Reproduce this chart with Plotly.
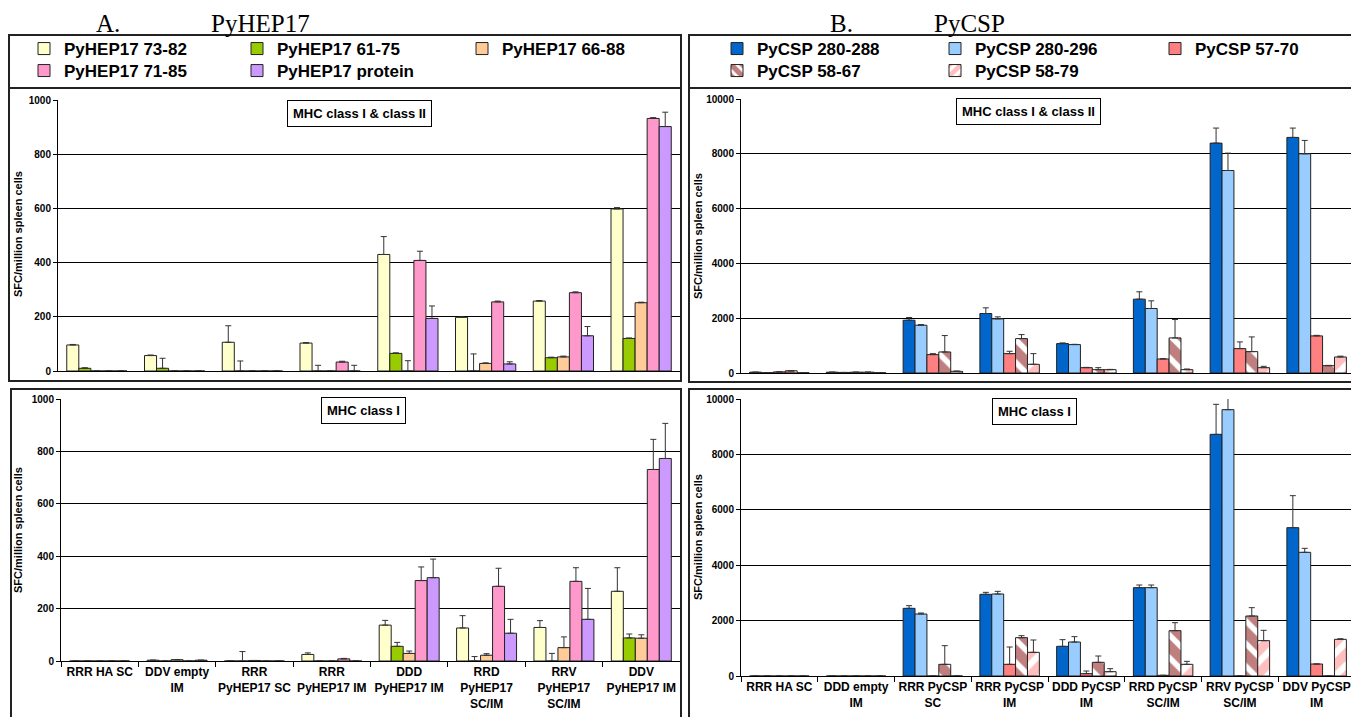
import plotly.graph_objects as go

# The page body adds an 8px offset, so the figure is drawn 8px smaller and
# reference pixel coordinates are shifted by 8px.
OFF = 8
W, H = 1359 - OFF, 717 - OFF


def px(x):
    return (x - OFF) / W


def py(y):
    return 1 - (y - OFF) / H


# ---------------- data ----------------
hep_labels = ["RRR HA SC", "DDV empty<br>IM", "RRR<br>PyHEP17 SC", "RRR<br>PyHEP17 IM",
              "DDD<br>PyHEP17 IM", "RRD<br>PyHEP17<br>SC/IM", "RRV<br>PyHEP17<br>SC/IM",
              "DDV<br>PyHEP17 IM"]
csp_labels = ["RRR HA SC", "DDD empty<br>IM", "RRR PyCSP<br>SC", "RRR PyCSP<br>IM",
              "DDD PyCSP<br>IM", "RRD PyCSP<br>SC/IM", "RRV PyCSP<br>SC/IM", "DDV PyCSP<br>IM"]

hep_names = ["PyHEP17 73-82", "PyHEP17 61-75", "PyHEP17 66-88", "PyHEP17 71-85", "PyHEP17 protein"]
csp_names = ["PyCSP 280-288", "PyCSP 280-296", "PyCSP 57-70", "PyCSP 58-67", "PyCSP 58-79"]

# PyHEP17, MHC class I & class II
hep_top_7382 = [96, 57, 106, 103, 430, 198, 258, 598]
hep_top_6175 = [10, 10, 0, 0, 65, 0, 49, 120]
hep_top_6688 = [0, 0, 0, 0, 0, 28, 52, 252]
hep_top_7185 = [0, 0, 0, 33, 408, 255, 289, 932]
hep_top_prot = [0, 0, 0, 0, 194, 26, 130, 902]
hep_top_7382_err = [2, 2, 61, 2, 66, 2, 2, 5]
hep_top_6175_err = [2, 37, 37, 21, 2, 63, 2, 2]
hep_top_6688_err = [0, 0, 0, 0, 38, 2, 3, 2]
hep_top_7185_err = [0, 0, 0, 3, 34, 3, 3, 3]
hep_top_prot_err = [0, 0, 0, 21, 46, 8, 34, 53]

# PyHEP17, MHC class I
hep_bot_7382 = [0, 3, 0, 25, 137, 126, 128, 266]
hep_bot_6175 = [0, 0, 0, 0, 56, 0, 0, 88]
hep_bot_6688 = [0, 5, 2, 0, 29, 22, 51, 87]
hep_bot_7185 = [0, 0, 0, 8, 307, 285, 304, 731]
hep_bot_prot = [0, 3, 0, 0, 318, 106, 159, 773]
hep_bot_7382_err = [0, 0, 0, 6, 18, 47, 26, 90]
hep_bot_6175_err = [0, 0, 36, 0, 15, 17, 29, 15]
hep_bot_6688_err = [0, 0, 0, 0, 9, 6, 41, 13]
hep_bot_7185_err = [0, 0, 0, 2, 52, 69, 52, 115]
hep_bot_prot_err = [0, 0, 0, 0, 71, 53, 118, 134]

# PyCSP, MHC class I & class II
csp_top_280288 = [30, 30, 1927, 2171, 1073, 2695, 8390, 8598]
csp_top_280296 = [10, 20, 1744, 1976, 1037, 2354, 7390, 8000]
csp_top_5770 = [40, 30, 671, 707, 195, 512, 890, 1354]
csp_top_5867 = [80, 30, 768, 1256, 122, 1280, 780, 268]
csp_top_5879 = [10, 10, 61, 317, 122, 122, 195, 585]
csp_top_280288_err = [0, 0, 97, 207, 25, 268, 549, 341]
csp_top_280296_err = [0, 0, 24, 73, 10, 280, 634, 488]
csp_top_5770_err = [0, 0, 36, 86, 10, 10, 244, 20]
csp_top_5867_err = [0, 0, 598, 146, 73, 671, 537, 10]
csp_top_5879_err = [0, 0, 10, 390, 10, 24, 49, 30]

# PyCSP, MHC class I
csp_bot_280288 = [0, 0, 2443, 2948, 1071, 3189, 8724, 5355]
csp_bot_280296 = [0, 0, 2238, 2960, 1227, 3189, 9615, 4465]
csp_bot_5770 = [0, 0, 0, 421, 84, 24, 0, 433]
csp_bot_5867 = [0, 0, 421, 1384, 493, 1637, 2166, 0]
csp_bot_5879 = [0, 0, 0, 854, 156, 421, 1276, 1324]
csp_bot_280288_err = [0, 0, 96, 72, 241, 96, 1084, 1155]
csp_bot_280296_err = [0, 0, 36, 96, 193, 96, 433, 144]
csp_bot_5770_err = [0, 0, 0, 626, 96, 0, 0, 0]
csp_bot_5867_err = [0, 0, 674, 72, 229, 288, 301, 0]
csp_bot_5879_err = [0, 0, 0, 446, 109, 108, 373, 20]

# ---------------- styles ----------------
hep_colors = ["#FFFFCC", "#99CC00", "#FFCC99", "#FF99CC", "#CC99FF"]
csp_styles = [
    dict(color="#0066CC"),
    dict(color="#99CCFF"),
    dict(color="#FF8080"),
    dict(color="white", pattern=dict(shape="\\", fgcolor="#800000", bgcolor="white",
                                     size=16, solidity=0.65)),
    dict(color="white", pattern=dict(shape="/", fgcolor="#FF8080", bgcolor="white",
                                     size=16, solidity=0.6)),
]

FONT = "Liberation Sans, Arial, sans-serif"
ERRC = "#333333"

fig = go.Figure()

hep_top = [hep_top_7382, hep_top_6175, hep_top_6688, hep_top_7185, hep_top_prot]
hep_top_err = [hep_top_7382_err, hep_top_6175_err, hep_top_6688_err, hep_top_7185_err, hep_top_prot_err]
hep_bot = [hep_bot_7382, hep_bot_6175, hep_bot_6688, hep_bot_7185, hep_bot_prot]
hep_bot_err = [hep_bot_7382_err, hep_bot_6175_err, hep_bot_6688_err, hep_bot_7185_err, hep_bot_prot_err]
csp_top = [csp_top_280288, csp_top_280296, csp_top_5770, csp_top_5867, csp_top_5879]
csp_top_err = [csp_top_280288_err, csp_top_280296_err, csp_top_5770_err, csp_top_5867_err, csp_top_5879_err]
csp_bot = [csp_bot_280288, csp_bot_280296, csp_bot_5770, csp_bot_5867, csp_bot_5879]
csp_bot_err = [csp_bot_280288_err, csp_bot_280296_err, csp_bot_5770_err, csp_bot_5867_err, csp_bot_5879_err]


def add_bar(name, labels, vals, errs, marker, xa, ya, showlegend, legend):
    m = dict(marker)
    m["line"] = dict(color="#222222", width=1)
    fig.add_trace(go.Bar(
        name=name, x=labels, y=vals, marker=m,
        error_y=dict(type="data", array=errs, arrayminus=[0] * len(errs), symmetric=False,
                     color=ERRC, thickness=1, width=3),
        xaxis=xa, yaxis=ya, showlegend=showlegend, legend=legend,
    ))


# one legend per entry (positions of the legend grid)
hep_leg = ["legend", "legend2", "legend3", "legend4", "legend5"]
csp_leg = ["legend6", "legend7", "legend8", "legend9", "legend10"]

for i in range(5):
    add_bar(hep_names[i], hep_labels, hep_top[i], hep_top_err[i], dict(color=hep_colors[i]),
            "x", "y", True, hep_leg[i])
    add_bar(hep_names[i], hep_labels, hep_bot[i], hep_bot_err[i], dict(color=hep_colors[i]),
            "x2", "y2", False, hep_leg[i])
for i in range(5):
    add_bar(csp_names[i], csp_labels, csp_top[i], csp_top_err[i], csp_styles[i],
            "x3", "y3", True, csp_leg[i])
    add_bar(csp_names[i], csp_labels, csp_bot[i], csp_bot_err[i], csp_styles[i],
            "x4", "y4", False, csp_leg[i])

tickf = dict(family=FONT, size=10, color="black", weight="bold")
catf = dict(family=FONT, size=12, color="black", weight="bold")


def xaxis(dom, anchor, labels_on):
    return dict(domain=dom, anchor=anchor, type="category", showline=True, linecolor="black",
                linewidth=1, showgrid=False, ticks="outside" if labels_on else "",
                tickson="boundaries", ticklen=5, tickcolor="black", tickangle=0,
                automargin=False,
                showticklabels=labels_on, tickfont=catf, fixedrange=True)


def yaxis(dom, anchor, rng, dt):
    return dict(domain=dom, anchor=anchor, range=rng, dtick=dt, tickformat="d",
                showline=True, linecolor="black", linewidth=1, ticks="outside", ticklen=4,
                tickcolor="black", showgrid=True, gridcolor="black", gridwidth=1,
                automargin=False,
                zeroline=False, tickfont=tickf, fixedrange=True)


legend_common = dict(orientation="h", bgcolor="rgba(0,0,0,0)", borderwidth=0,
                     font=dict(family=FONT, size=17, color="black", weight="bold"),
                     xanchor="left", yanchor="middle",
                     itemclick=False, itemdoubleclick=False)

# legend grid positions (legend box left edge, row centre)
leg_pos = {
    "legend": (24, 49), "legend2": (237, 49), "legend3": (462, 49),
    "legend4": (24, 71), "legend5": (237, 71),
    "legend6": (717, 49), "legend7": (935, 49), "legend8": (1155, 49),
    "legend9": (717, 71), "legend10": (935, 71),
}
legends = {k: dict(legend_common, x=px(v[0]), y=py(v[1])) for k, v in leg_pos.items()}

fig.update_layout(
    width=W, height=H, margin=dict(l=0, r=0, t=0, b=0, autoexpand=False),
    paper_bgcolor="white", plot_bgcolor="white",
    font=dict(family=FONT, color="black"),
    barmode="group", bargap=0.225, bargroupgap=0,
    xaxis=xaxis([px(58), px(680)], "y", False),
    yaxis=yaxis([py(371), py(100)], "x", [0, 1000], 200),
    xaxis2=xaxis([px(61), px(680)], "y2", True),
    yaxis2=yaxis([py(661), py(399)], "x2", [0, 1000], 200),
    xaxis3=xaxis([px(741), px(1355)], "y3", False),
    yaxis3=yaxis([py(373), py(99)], "x3", [0, 10000], 2000),
    xaxis4=xaxis([px(741), px(1355)], "y4", True),
    yaxis4=yaxis([py(676), py(399)], "x4", [0, 10000], 2000),
    **legends,
)

# frames
frame = dict(type="rect", xref="paper", yref="paper", line=dict(color="#222222", width=2),
             fillcolor="rgba(0,0,0,0)", layer="above")
for (x0, y0, x1, y1) in [(9, 35, 681, 88), (9, 88, 681, 381), (11, 389, 681, 725),
                         (689, 35, 1355, 88), (689, 88, 1357, 382), (689, 389, 1357, 725)]:
    fig.add_shape(frame, x0=px(x0), x1=px(x1), y0=py(y1), y1=py(y0))

# panel titles
serif = dict(family="Liberation Serif, Times New Roman, serif", size=25, color="black")
for txt, x in [("A.", 95), ("PyHEP17", 210), ("B.", 829), ("PyCSP", 933)]:
    fig.add_annotation(text=txt, x=px(x), y=py(23.5), xref="paper", yref="paper",
                       xanchor="left", yanchor="middle", showarrow=False, font=serif,
                       borderpad=0)

# boxed annotations
boxf = dict(family=FONT, size=13, color="black", weight="bold")
for txt, x, y in [("MHC class I & class II", 360, 113), ("MHC class I & class II", 1028, 111),
                  ("MHC class I", 363, 410), ("MHC class I", 1034, 411)]:
    fig.add_annotation(text=txt, x=px(x), y=py(y), xref="paper", yref="paper",
                       xanchor="center", yanchor="middle", showarrow=False, font=boxf,
                       bgcolor="white", bordercolor="black", borderwidth=1, borderpad=5)

# y axis titles
ytf = dict(family=FONT, size=11, color="black", weight="bold")
for x, y in [(18, 234), (18, 530), (698, 236), (698, 537)]:
    fig.add_annotation(text="SFC/million spleen cells", x=px(x), y=py(y), xref="paper",
                       yref="paper", textangle=-90, showarrow=False, font=ytf,
                       xanchor="center", yanchor="middle")

fig.write_html("out.html")
